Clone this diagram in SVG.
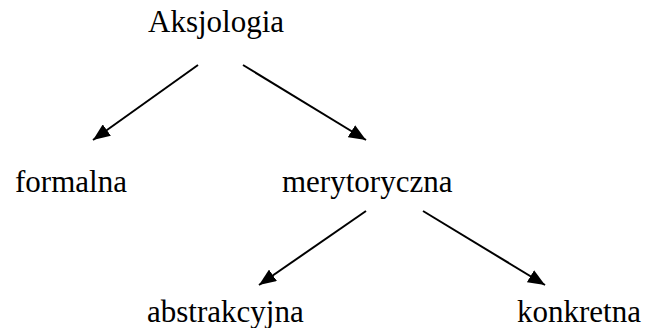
<svg xmlns="http://www.w3.org/2000/svg" width="655" height="328" viewBox="0 0 655 328">
<style>
text{font-family:'Liberation Serif','Times New Roman',serif;font-size:31px;fill:#000}
.c line{stroke:#000;stroke-width:2}
</style>
<defs>
<marker id="ah" markerUnits="userSpaceOnUse" markerWidth="18" markerHeight="14" refX="17" refY="7" orient="auto" viewBox="0 0 18 14">
<path d="M0,0 L17,7 L0,14 Z" fill="#000"/>
</marker>
</defs>
<rect width="655" height="328" fill="#fff"/>
<g id="n-aksjologia"><text x="148" y="32">Aksjologia</text></g>
<g id="n-formalna"><text x="15" y="192">formalna</text></g>
<g id="n-merytoryczna"><text x="282" y="192">merytoryczna</text></g>
<g id="n-abstrakcyjna"><text x="147" y="322">abstrakcyjna</text></g>
<g id="n-konkretna"><text x="517" y="322">konkretna</text></g>
<g class="c" id="connectors">
<line x1="198" y1="65" x2="93" y2="140" marker-end="url(#ah)"/>
<line x1="243" y1="65" x2="366" y2="140" marker-end="url(#ah)"/>
<line x1="366" y1="211" x2="259" y2="285" marker-end="url(#ah)"/>
<line x1="423" y1="211" x2="545" y2="285" marker-end="url(#ah)"/>
</g>
</svg>
